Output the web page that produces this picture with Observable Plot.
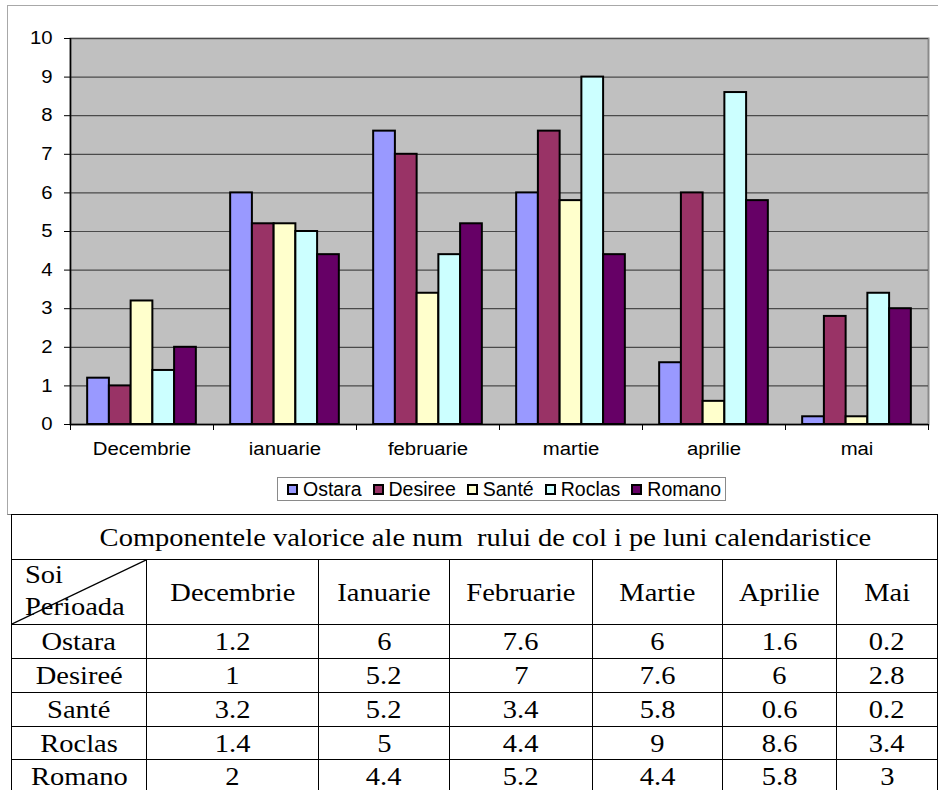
<!DOCTYPE html>
<html>
<head>
<meta charset="utf-8">
<script src="https://cdn.jsdelivr.net/npm/d3@7"></script>
<script src="https://cdn.jsdelivr.net/npm/@observablehq/plot@0.6"></script>
<style>
  body { margin: 0; background: #fff; width: 938px; height: 790px; overflow: hidden; position: relative;
         font-family: "Liberation Sans", Arial, sans-serif; }
  #cadru { position: absolute; left: 7px; top: 5px; width: 945px; height: 510px; box-sizing: border-box;
           border: 1.5px solid #a8a8a8; border-bottom-color: #7a7a7a; }
  #grafic { position: absolute; left: 0; top: 0; }
  #legenda { position: absolute; left: 277px; top: 477px; width: 449px; height: 24px; box-sizing: border-box;
             border: 1px solid #8a8a8a; background: #fff; display: flex; align-items: center;
             padding-left: 9px; font-size: 19.5px; color: #000; white-space: nowrap; }
  #legenda .item { display: flex; align-items: center; margin-right: 11px; }
  #legenda .patrat { width: 7px; height: 7px; border: 2px solid #000; margin-right: 5px; }
  table { position: absolute; left: 11px; top: 514px; border-collapse: collapse; table-layout: fixed;
          font-family: "Liberation Serif", "Times New Roman", serif; font-size: 25px; color: #000; }
  td { border: 1.3px solid #000; text-align: center; vertical-align: middle; padding: 0; line-height: 1; }
  td.titlu { padding-left: 22px; }
  .sx { display: inline-block; transform: scaleX(1.14); }
  td.colt { position: relative; text-align: left; }
  td.colt svg { position: absolute; left: 0; top: 0; width: 100%; height: 100%; }
  td.colt .soi { position: absolute; left: 13px; top: 2px; transform-origin: left; }
  td.colt .per { position: absolute; left: 13px; top: 34px; transform-origin: left; }
</style>
</head>
<body>
<div id="cadru"></div>
<div id="grafic"></div>
<div id="legenda"></div>
<table id="tabel"></table>
<script>
// Luni (etichetele axei) și soiuri
const luni = ["Decembrie", "ianuarie", "februarie", "martie", "aprilie", "mai"];
const luniTabel = ["Decembrie", "Ianuarie", "Februarie", "Martie", "Aprilie", "Mai"];
const soiuri = ["Ostara", "Desiree", "Santé", "Roclas", "Romano"];
const soiuriTabel = ["Ostara", "Desireé", "Santé", "Roclas", "Romano"];

// Valori pe luni, câte un șir pentru fiecare soi
const ostara = [1.2, 6, 7.6, 6, 1.6, 0.2];
const desiree = [1, 5.2, 7, 7.6, 6, 2.8];
const sante = [3.2, 5.2, 3.4, 5.8, 0.6, 0.2];
const roclas = [1.4, 5, 4.4, 9, 8.6, 3.4];
const romano = [2, 4.4, 5.2, 4.4, 5.8, 3];
const valori = [ostara, desiree, sante, roclas, romano];

const culori = ["#9999ff", "#993366", "#ffffcc", "#ccffff", "#660066"];
const yTicks = [0, 1, 2, 3, 4, 5, 6, 7, 8, 9, 10];
const titluTabel = "Componentele valorice ale num\u00a0 rului de col\u00a0i pe luni calendaristice";

const date = soiuri.flatMap((soi, j) => valori[j].map((v, m) => ({soi, j, m, luna: luni[m], v})));

// Grupul de bare ocupă partea centrală a fiecărei luni
const margineGrup = 0.12;
const latimeBara = (1 - 2 * margineGrup) / soiuri.length;

const plot = Plot.plot({
  width: 938,
  height: 470,
  marginLeft: 70,
  marginRight: 10,
  marginTop: 38,
  marginBottom: 46,
  style: { background: "transparent", fontFamily: "Liberation Sans, Arial, sans-serif", color: "#000" },
  x: { domain: [0, luni.length], axis: null },
  y: { domain: [0, 10], axis: null },
  color: { domain: soiuri, range: culori },
  marks: [
    Plot.frame({ fill: "#c0c0c0", stroke: "#8a8a8a", strokeWidth: 2 }),
    Plot.gridY(yTicks.slice(1), { stroke: "#4a4a4a", strokeOpacity: 1, strokeWidth: 1.2 }),
    Plot.rect(date, {
      x1: d => d.m + margineGrup + d.j * latimeBara,
      x2: d => d.m + margineGrup + (d.j + 1) * latimeBara,
      y1: 0,
      y2: "v",
      fill: "soi",
      stroke: "#000",
      strokeWidth: 2
    }),
    Plot.ruleY([0], { stroke: "#000", strokeWidth: 1.5 }),
    Plot.ruleX([0], { stroke: "#000", strokeWidth: 1.5 }),
    Plot.axisY(yTicks, { tickSize: 6, tickPadding: 12, fontSize: 18, label: null, stroke: "#000" }),
    Plot.axisX(d3.range(luni.length + 1), { tickSize: 6, tickFormat: () => "", label: null, stroke: "#000" }),
    Plot.axisX(luni.map((_, i) => i + 0.5), {
      tickSize: 0, tickPadding: 18, fontSize: 18, label: null,
      tickFormat: t => luni[Math.floor(t)]
    })
  ]
});
// Textul axelor este puțin lățit pe orizontală, în jurul punctului de ancorare
d3.select(plot).selectAll("text").each(function () {
  const t = this.getAttribute("transform");
  if (t) this.setAttribute("transform", t + " scale(1.13,1)");
});
document.getElementById("grafic").appendChild(plot);

// Legenda
const legenda = d3.select("#legenda");
soiuri.forEach((s, i) => {
  const it = legenda.append("div").attr("class", "item");
  it.append("div").attr("class", "patrat").style("background", culori[i]);
  it.append("span").text(s);
});

// Tabelul cu valori
const latimiColoane = [135, 172, 131, 143, 130, 114, 101];
const inaltimiRanduri = [45, 65, 34, 34, 34, 33, 34];
const tabel = d3.select("#tabel").style("width", d3.sum(latimiColoane) + "px");
const cg = tabel.append("colgroup");
latimiColoane.forEach(w => cg.append("col").style("width", w + "px"));

const r0 = tabel.append("tr").style("height", inaltimiRanduri[0] + "px");
r0.append("td").attr("class", "titlu").attr("colspan", 7).append("span").attr("class", "sx").text(titluTabel);

const r1 = tabel.append("tr").style("height", inaltimiRanduri[1] + "px");
const colt = r1.append("td").attr("class", "colt");
colt.append("svg").attr("viewBox", "0 0 100 100").attr("preserveAspectRatio", "none")
  .append("line").attr("x1", 100).attr("y1", 0).attr("x2", 0).attr("y2", 100)
  .attr("stroke", "#000").attr("stroke-width", 1.3).attr("vector-effect", "non-scaling-stroke");
colt.append("span").attr("class", "sx soi").text("Soi");
colt.append("span").attr("class", "sx per").text("Perioada");
luniTabel.forEach(l => r1.append("td").append("span").attr("class", "sx").text(l));

soiuriTabel.forEach((s, j) => {
  const r = tabel.append("tr").style("height", inaltimiRanduri[j + 2] + "px");
  r.append("td").append("span").attr("class", "sx").text(s);
  valori[j].forEach(v => r.append("td").append("span").attr("class", "sx").text(String(v)));
});
</script>
</body>
</html>
